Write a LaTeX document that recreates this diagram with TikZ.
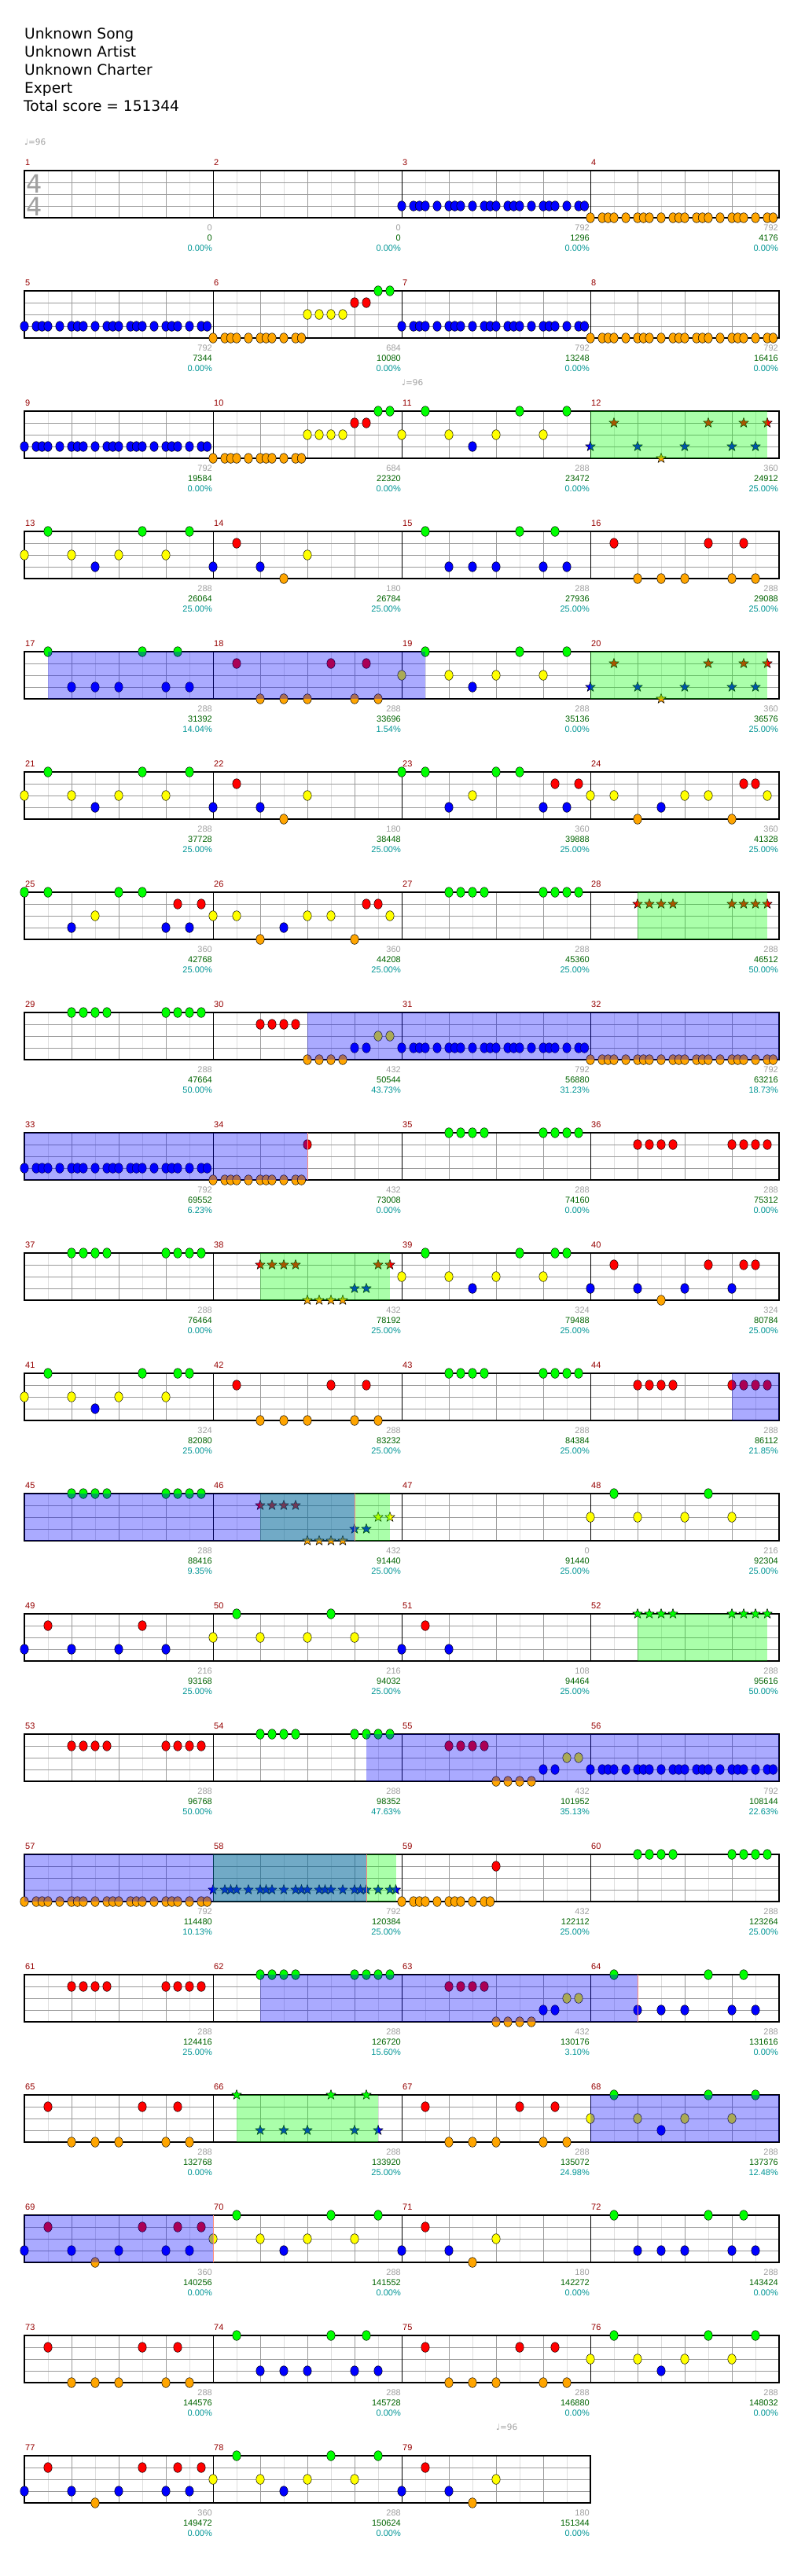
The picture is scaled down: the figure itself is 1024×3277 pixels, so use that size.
\documentclass[tikz,border=0pt]{standalone}
\usepackage{fontspec}
\setmainfont{DejaVu Sans}
\newfontfamily\smallfont{Liberation Sans}
\usetikzlibrary{shapes.geometric}

% left edge (\mx) and top line (\mt) of a measure
\newcommand\mpos[1]{%
  \pgfmathtruncatemacro\mrow{(#1-1)/4}%
  \pgfmathtruncatemacro\mcol{#1-1-4*\mrow}%
  \pgfmathsetmacro\mx{31+240*\mcol}%
  \pgfmathsetmacro\mt{217+153*\mrow}%
}
% notes: measure, lane (0 = top), positions in sixteenths
\newcommand\nts[3]{%
  \mpos{#1}%
  \foreach \p in {#3} {
    \path[notedot, fill=lane#2] ({\mx+15*\p},{\mt+15*#2}) ellipse [x radius=5.2pt, y radius=6.3pt];
  }%
}
\newcommand\ntsP[2]{\nts{#1}{#2}{0,1,1.5,2,3,4,4.5,5,6,7,7.5,8,9,9.5,10,11,12,12.5,13,14,15,15.5}}
\newcommand\ntsH[2]{\nts{#1}{#2}{0,1,1.5,2,3,4,4.5,5,6,7,7.5}}
% star notes
\newcommand\sts[3]{%
  \mpos{#1}%
  \foreach \p [count=\i] in {#3} {
    \node[starnote, fill=lane#2] (star#1-#2-\i) at ({\mx+15*\p},{\mt+15*#2}) {};
  }%
}
% star power and activation areas
\newcommand\spow[3]{\mpos{#1}\fill[spfill] ({\mx+15*#2},\mt) rectangle ({\mx+15*#3},{\mt+60});}
\newcommand\act[4]{\mpos{#1}\edef\xa{\mx}\mpos{#3}\fill[actfill] ({\xa+15*#2},\mt) rectangle ({\mx+15*#4},{\mt+60});}
\newcommand\actend[2]{\mpos{#1}\draw[actedge] ({\mx+15*#2},\mt) -- ++(0,60);}
% measure number and the three counts under it
\newcommand\mlab[4]{%
  \mpos{#1}%
  \node[barnum] (n#1) at ({\mx+1},{\mt-7}) {#1};
  \node[maxlab] (g#1) at ({\mx+239},{\mt+76}) {#2};
  \node[scorelab] (s#1) at ({\mx+239},{\mt+89}) {#3};
  \node[pctlab] (p#1) at ({\mx+239},{\mt+102}) {#4\%};
}

\begin{document}
\begin{tikzpicture}[
    x=1pt, y=-1pt,
    notedot/.style={draw=black, line width=0.5pt},
    starnote/.style={star, star points=5, star point ratio=2.4, minimum size=13pt, inner sep=0pt, draw=black, line width=0.5pt},
    spfill/.style={fill=spgreen, fill opacity=0.333},
    actfill/.style={fill=actblue, fill opacity=0.333},
    actedge/.style={draw=actred, line width=0.8pt},
    eighthline/.style={draw=gridlight, line width=0.8pt},
    beatline/.style={draw=griddark, line width=0.9pt},
    laneline/.style={draw=griddark, line width=0.9pt},
    barline/.style={draw=black, line width=0.8pt},
    staffline/.style={draw=black, line width=1.5pt},
    small/.style={inner sep=0pt, font=\smallfont\fontsize{11pt}{13pt}\selectfont},
    barnum/.style={small, anchor=base west, text=barred},
    maxlab/.style={small, anchor=base east, text=maxgray},
    scorelab/.style={small, anchor=base east, text=scoregreen},
    pctlab/.style={small, anchor=base east, text=pctteal},
    title/.style={anchor=base west, inner sep=0pt, font=\fontsize{18.6pt}{23pt}\selectfont},
    tempo/.style={anchor=base west, inner sep=0pt, text=maxgray, font=\fontsize{10.5pt}{12pt}\selectfont},
    tsig/.style={anchor=base west, inner sep=0pt, text=maxgray, font=\fontsize{32pt}{34pt}\selectfont}
]

% Colors
\definecolor{lane0}{RGB}{0,255,0}
\definecolor{lane1}{RGB}{255,0,0}
\definecolor{lane2}{RGB}{255,255,0}
\definecolor{lane3}{RGB}{0,0,255}
\definecolor{lane4}{RGB}{255,165,0}
\definecolor{spgreen}{RGB}{0,255,0}
\definecolor{actblue}{RGB}{0,0,255}
\definecolor{actred}{RGB}{255,140,120}
\definecolor{gridlight}{RGB}{222,222,222}
\definecolor{griddark}{RGB}{155,155,155}
\definecolor{barred}{RGB}{150,0,0}
\definecolor{maxgray}{RGB}{160,160,160}
\definecolor{scoregreen}{RGB}{0,100,0}
\definecolor{pctteal}{RGB}{0,150,150}

\useasboundingbox (0,0) rectangle (1024,3277);
\fill[white] (0,0) rectangle (1024,3277);

% Header
\node[title] (song) at (31,49.3) {Unknown Song};
\node[title] (artist) at (31,72) {Unknown Artist};
\node[title] (charter) at (31,95) {Unknown Charter};
\node[title] (diff) at (31,118) {Expert};
\node[title] (total) at (30,141) {Total score = 151344};

% Tempo marks
\node[tempo] (tempo1) at (31,184) {♩=96};
\node[tempo] (tempo2) at (511,490) {♩=96};
\node[tempo] (tempo3) at (631,3091) {♩=96};

% Staves
\foreach \r in {0,...,19} {
  \pgfmathsetmacro\rt{217+153*\r}
  \pgfmathsetmacro\rw{\r<19 ? 960 : 720}
  \pgfmathtruncatemacro\nk{\rw/30}
  \foreach \k in {1,3,...,\nk} \draw[eighthline] ({31+30*\k},\rt) -- ++(0,60);
  \foreach \k in {2,4,...,\nk} \draw[beatline] ({31+30*\k},\rt) -- ++(0,60);
  \foreach \j in {1,2,3} \draw[laneline] (31,{\rt+15*\j}) -- ++(\rw,0);
  \foreach \k in {240,480,720} \draw[barline] ({31+\k},\rt) -- ++(0,60);
  \draw[staffline] (31,\rt) rectangle ++(\rw,60);
}

% Time signature
\node[tsig] (tsig1) at (33,245) {4};
\node[tsig] (tsig2) at (33,274.5) {4};

% Notes
\ntsP{3}{3}
\ntsP{4}{4}
\ntsP{5}{3}
\ntsH{6}{4} \nts{6}{2}{8,9,10,11} \nts{6}{1}{12,13} \nts{6}{0}{14,15}
\ntsP{7}{3}
\ntsP{8}{4}
\ntsP{9}{3}
\ntsH{10}{4} \nts{10}{2}{8,9,10,11} \nts{10}{1}{12,13} \nts{10}{0}{14,15}
\nts{11}{0}{2,10,14} \nts{11}{2}{0,4,8,12} \nts{11}{3}{6}
\sts{12}{1}{2,10,13,15} \sts{12}{3}{0,4,8,12,14} \sts{12}{4}{6}
\nts{13}{0}{2,10,14} \nts{13}{2}{0,4,8,12} \nts{13}{3}{6}
\nts{14}{1}{2} \nts{14}{3}{0,4} \nts{14}{4}{6} \nts{14}{2}{8}
\nts{15}{0}{2,10,13} \nts{15}{3}{4,6,8,12,14}
\nts{16}{1}{2,10,13} \nts{16}{4}{4,6,8,12,14}
\nts{17}{0}{2,10,13} \nts{17}{3}{4,6,8,12,14}
\nts{18}{1}{2,10,13} \nts{18}{4}{4,6,8,12,14}
\nts{19}{0}{2,10,14} \nts{19}{2}{0,4,8,12} \nts{19}{3}{6}
\sts{20}{1}{2,10,13,15} \sts{20}{3}{0,4,8,12,14} \sts{20}{4}{6}
\nts{21}{0}{2,10,14} \nts{21}{2}{0,4,8,12} \nts{21}{3}{6}
\nts{22}{1}{2} \nts{22}{3}{0,4} \nts{22}{4}{6} \nts{22}{2}{8}
\nts{23}{0}{0,2,8,10} \nts{23}{2}{6} \nts{23}{3}{4,12,14} \nts{23}{1}{13,15}
\nts{24}{2}{0,2,8,10,15} \nts{24}{4}{4,12} \nts{24}{3}{6} \nts{24}{1}{13,14}
\nts{25}{0}{0,2,8,10} \nts{25}{2}{6} \nts{25}{3}{4,12,14} \nts{25}{1}{13,15}
\nts{26}{2}{0,2,8,10,15} \nts{26}{4}{4,12} \nts{26}{3}{6} \nts{26}{1}{13,14}
\nts{27}{0}{4,5,6,7,12,13,14,15}
\sts{28}{1}{4,5,6,7,12,13,14,15}
\nts{29}{0}{4,5,6,7,12,13,14,15}
\nts{30}{1}{4,5,6,7} \nts{30}{4}{8,9,10,11} \nts{30}{3}{12,13} \nts{30}{2}{14,15}
\ntsP{31}{3}
\ntsP{32}{4}
\ntsP{33}{3}
\ntsH{34}{4} \nts{34}{1}{8}
\nts{35}{0}{4,5,6,7,12,13,14,15}
\nts{36}{1}{4,5,6,7,12,13,14,15}
\nts{37}{0}{4,5,6,7,12,13,14,15}
\sts{38}{1}{4,5,6,7,14,15} \sts{38}{4}{8,9,10,11} \sts{38}{3}{12,13}
\nts{39}{0}{2,10,13,14} \nts{39}{2}{0,4,8,12} \nts{39}{3}{6}
\nts{40}{1}{2,10,13,14} \nts{40}{3}{0,4,8,12} \nts{40}{4}{6}
\nts{41}{0}{2,10,13,14} \nts{41}{2}{0,4,8,12} \nts{41}{3}{6}
\nts{42}{1}{2,10,13} \nts{42}{4}{4,6,8,12,14}
\nts{43}{0}{4,5,6,7,12,13,14,15}
\nts{44}{1}{4,5,6,7,12,13,14,15}
\nts{45}{0}{4,5,6,7,12,13,14,15}
\sts{46}{1}{4,5,6,7} \sts{46}{4}{8,9,10,11} \sts{46}{3}{12,13} \sts{46}{2}{14,15}
\nts{48}{0}{2,10} \nts{48}{2}{0,4,8,12}
\nts{49}{1}{2,10} \nts{49}{3}{0,4,8,12}
\nts{50}{0}{2,10} \nts{50}{2}{0,4,8,12}
\nts{51}{1}{2} \nts{51}{3}{0,4}
\sts{52}{0}{4,5,6,7,12,13,14,15}
\nts{53}{1}{4,5,6,7,12,13,14,15}
\nts{54}{0}{4,5,6,7,12,13,14,15}
\nts{55}{1}{4,5,6,7} \nts{55}{4}{8,9,10,11} \nts{55}{3}{12,13} \nts{55}{2}{14,15}
\ntsP{56}{3}
\ntsP{57}{4}
\sts{58}{3}{0,1,1.5,2,3,4,4.5,5,6,7,7.5,8,9,9.5,10,11,12,12.5,13,14,15,15.5}
\ntsH{59}{4} \nts{59}{1}{8}
\nts{60}{0}{4,5,6,7,12,13,14,15}
\nts{61}{1}{4,5,6,7,12,13,14,15}
\nts{62}{0}{4,5,6,7,12,13,14,15}
\nts{63}{1}{4,5,6,7} \nts{63}{4}{8,9,10,11} \nts{63}{3}{12,13} \nts{63}{2}{14,15}
\nts{64}{0}{2,10,13} \nts{64}{3}{4,6,8,12,14}
\nts{65}{1}{2,10,13} \nts{65}{4}{4,6,8,12,14}
\sts{66}{0}{2,10,13} \sts{66}{3}{4,6,8,12,14}
\nts{67}{1}{2,10,13} \nts{67}{4}{4,6,8,12,14}
\nts{68}{0}{2,10,14} \nts{68}{2}{0,4,8,12} \nts{68}{3}{6}
\nts{69}{1}{2,10,13,15} \nts{69}{3}{0,4,8,12,14} \nts{69}{4}{6}
\nts{70}{0}{2,10,14} \nts{70}{2}{0,4,8,12} \nts{70}{3}{6}
\nts{71}{1}{2} \nts{71}{2}{8} \nts{71}{3}{0,4} \nts{71}{4}{6}
\nts{72}{0}{2,10,13} \nts{72}{3}{4,6,8,12,14}
\nts{73}{1}{2,10,13} \nts{73}{4}{4,6,8,12,14}
\nts{74}{0}{2,10,13} \nts{74}{3}{4,6,8,12,14}
\nts{75}{1}{2,10,13} \nts{75}{4}{4,6,8,12,14}
\nts{76}{0}{2,10,14} \nts{76}{2}{0,4,8,12} \nts{76}{3}{6}
\nts{77}{1}{2,10,13,15} \nts{77}{3}{0,4,8,12,14} \nts{77}{4}{6}
\nts{78}{0}{2,10,14} \nts{78}{2}{0,4,8,12} \nts{78}{3}{6}
\nts{79}{1}{2} \nts{79}{2}{8} \nts{79}{3}{0,4} \nts{79}{4}{6}

% Star power
\spow{12}{0}{15}
\spow{20}{0}{15}
\spow{28}{4}{15}
\spow{38}{4}{15}
\spow{46}{4}{15}
\spow{52}{4}{15}
\spow{58}{0}{15.5}
\spow{66}{2}{14}

% Activation
\act{17}{2}{19}{2}
\act{30}{8}{32}{16}
\act{33}{0}{34}{8} \actend{34}{8}
\act{44}{12}{44}{16}
\act{45}{0}{46}{12} \actend{46}{12}
\act{54}{13}{56}{16}
\act{57}{0}{58}{13} \actend{58}{13}
\act{62}{4}{64}{4} \actend{64}{4}
\act{68}{0}{68}{16}
\act{69}{0}{69}{16} \actend{70}{0}

% Counts
\mlab{1}{0}{0}{0.00}
\mlab{2}{0}{0}{0.00}
\mlab{3}{792}{1296}{0.00}
\mlab{4}{792}{4176}{0.00}
\mlab{5}{792}{7344}{0.00}
\mlab{6}{684}{10080}{0.00}
\mlab{7}{792}{13248}{0.00}
\mlab{8}{792}{16416}{0.00}
\mlab{9}{792}{19584}{0.00}
\mlab{10}{684}{22320}{0.00}
\mlab{11}{288}{23472}{0.00}
\mlab{12}{360}{24912}{25.00}
\mlab{13}{288}{26064}{25.00}
\mlab{14}{180}{26784}{25.00}
\mlab{15}{288}{27936}{25.00}
\mlab{16}{288}{29088}{25.00}
\mlab{17}{288}{31392}{14.04}
\mlab{18}{288}{33696}{1.54}
\mlab{19}{288}{35136}{0.00}
\mlab{20}{360}{36576}{25.00}
\mlab{21}{288}{37728}{25.00}
\mlab{22}{180}{38448}{25.00}
\mlab{23}{360}{39888}{25.00}
\mlab{24}{360}{41328}{25.00}
\mlab{25}{360}{42768}{25.00}
\mlab{26}{360}{44208}{25.00}
\mlab{27}{288}{45360}{25.00}
\mlab{28}{288}{46512}{50.00}
\mlab{29}{288}{47664}{50.00}
\mlab{30}{432}{50544}{43.73}
\mlab{31}{792}{56880}{31.23}
\mlab{32}{792}{63216}{18.73}
\mlab{33}{792}{69552}{6.23}
\mlab{34}{432}{73008}{0.00}
\mlab{35}{288}{74160}{0.00}
\mlab{36}{288}{75312}{0.00}
\mlab{37}{288}{76464}{0.00}
\mlab{38}{432}{78192}{25.00}
\mlab{39}{324}{79488}{25.00}
\mlab{40}{324}{80784}{25.00}
\mlab{41}{324}{82080}{25.00}
\mlab{42}{288}{83232}{25.00}
\mlab{43}{288}{84384}{25.00}
\mlab{44}{288}{86112}{21.85}
\mlab{45}{288}{88416}{9.35}
\mlab{46}{432}{91440}{25.00}
\mlab{47}{0}{91440}{25.00}
\mlab{48}{216}{92304}{25.00}
\mlab{49}{216}{93168}{25.00}
\mlab{50}{216}{94032}{25.00}
\mlab{51}{108}{94464}{25.00}
\mlab{52}{288}{95616}{50.00}
\mlab{53}{288}{96768}{50.00}
\mlab{54}{288}{98352}{47.63}
\mlab{55}{432}{101952}{35.13}
\mlab{56}{792}{108144}{22.63}
\mlab{57}{792}{114480}{10.13}
\mlab{58}{792}{120384}{25.00}
\mlab{59}{432}{122112}{25.00}
\mlab{60}{288}{123264}{25.00}
\mlab{61}{288}{124416}{25.00}
\mlab{62}{288}{126720}{15.60}
\mlab{63}{432}{130176}{3.10}
\mlab{64}{288}{131616}{0.00}
\mlab{65}{288}{132768}{0.00}
\mlab{66}{288}{133920}{25.00}
\mlab{67}{288}{135072}{24.98}
\mlab{68}{288}{137376}{12.48}
\mlab{69}{360}{140256}{0.00}
\mlab{70}{288}{141552}{0.00}
\mlab{71}{180}{142272}{0.00}
\mlab{72}{288}{143424}{0.00}
\mlab{73}{288}{144576}{0.00}
\mlab{74}{288}{145728}{0.00}
\mlab{75}{288}{146880}{0.00}
\mlab{76}{288}{148032}{0.00}
\mlab{77}{360}{149472}{0.00}
\mlab{78}{288}{150624}{0.00}
\mlab{79}{180}{151344}{0.00}

\end{tikzpicture}
\end{document}
